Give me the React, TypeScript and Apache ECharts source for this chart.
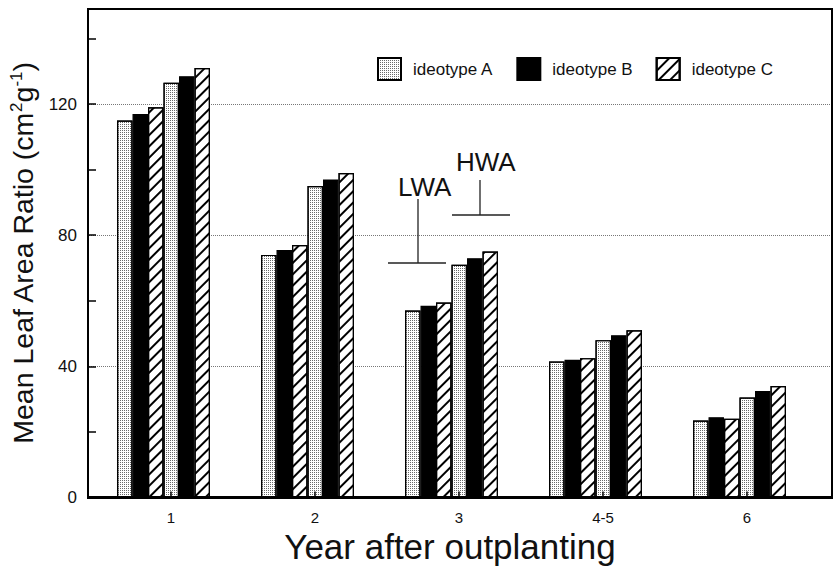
import React, { useEffect, useRef } from 'react';
import * as echarts from 'echarts';

// ---- data ----
const categories = ['1', '2', '3', '4-5', '6'];
const legendNames = ['ideotype A', 'ideotype B', 'ideotype C'];
// LWA (low water availability) group
const lwaA = [115, 74, 57, 41.5, 23.5];
const lwaB = [117, 75.5, 58.5, 42, 24.5];
const lwaC = [119, 77, 59.5, 42.5, 24];
// HWA (high water availability) group
const hwaA = [126.5, 95, 71, 48, 30.5];
const hwaB = [128.5, 97, 73, 49.5, 32.5];
const hwaC = [131, 99, 75, 51, 34];
const yMin = 0;
const yMax = 149;

const FONT = '"Liberation Sans", Arial, Helvetica, sans-serif';

export default function App() {
  const ref = useRef<HTMLDivElement>(null);

  useEffect(() => {
    document.body.style.margin = '0';
    const chart = echarts.init(ref.current as HTMLDivElement, null, { renderer: 'svg' });

    const decalA = {
      symbol: 'rect',
      symbolSize: 1,
      dashArrayX: [1, 1],
      dashArrayY: [1, 1],
      color: '#6a6a6a',
    };
    const decalC = {
      symbol: 'rect',
      symbolSize: 1,
      dashArrayX: [1, 0],
      dashArrayY: [1.3, 5.5],
      rotation: -Math.PI / 4,
      color: '#000',
    };
    const styleA = { color: '#ffffff', borderColor: '#000', borderWidth: 1.2, decal: decalA };
    const styleB = { color: '#000000', borderColor: '#000', borderWidth: 1.2 };
    const styleC = { color: '#ffffff', borderColor: '#000', borderWidth: 1.2, decal: decalC };

    const mk = (name: string, data: number[], style: any) => ({
      type: 'bar',
      name,
      data,
      xAxisIndex: 0,
      yAxisIndex: 2,
      barWidth: 15.5,
      barGap: '0%',
      itemStyle: style,
      emphasis: { disabled: true },
    });

    chart.setOption({
      animation: false,
      backgroundColor: '#ffffff',
      textStyle: { fontFamily: FONT },
      legend: {
        data: legendNames,
        left: 377,
        top: 57,
        padding: 0,
        icon: 'rect',
        itemWidth: 23,
        itemHeight: 22,
        itemGap: 23,
        selectedMode: false,
        textStyle: { fontSize: 17, color: '#111', fontFamily: FONT, padding: [0, 0, 0, 7] },
      },
      grid: [
        { left: 99, right: 14, top: 9, bottom: 87.5 },
        { left: 88, right: 1, top: 9, bottom: 87.5 },
      ],
      xAxis: [
        {
          gridIndex: 0,
          type: 'category',
          data: categories,
          z: 5,
          axisLine: { show: false },
          axisTick: {
            show: true,
            inside: true,
            alignWithLabel: true,
            length: 6,
            lineStyle: { color: '#000', width: 1.5 },
          },
          axisLabel: { fontSize: 15, margin: 12, color: '#111', fontFamily: FONT },
          name: 'Year after outplanting',
          nameLocation: 'middle',
          nameGap: 31,
          nameTextStyle: { fontSize: 35, color: '#111', fontFamily: FONT, padding: [0, 18, 0, 0] },
        },
        { gridIndex: 1, type: 'value', min: 0, max: 1, show: false },
      ],
      yAxis: [
        {
          gridIndex: 1,
          type: 'value',
          min: yMin,
          max: yMax,
          interval: 20,
          axisLine: { show: false },
          axisTick: { show: true, inside: true, length: 7, lineStyle: { color: '#000', width: 1.5 } },
          axisLabel: {
            fontSize: 17,
            margin: 12,
            color: '#111',
            fontFamily: FONT,
            formatter: (v: number) => (v % 40 === 0 ? String(v) : ''),
          },
          splitLine: { show: false },
          name: 'Mean Leaf Area Ratio (cm{sup|2}g{sup|-1})',
          nameLocation: 'middle',
          nameGap: 52,
          nameRotate: 90,
          nameTextStyle: {
            fontSize: 28.5,
            color: '#111',
            fontFamily: FONT,
            rich: { sup: { fontSize: 17, verticalAlign: 'top', color: '#111', fontFamily: FONT } },
          },
        },
        {
          gridIndex: 1,
          type: 'value',
          min: yMin,
          max: yMax,
          interval: 40,
          axisLine: { show: false },
          axisTick: { show: false },
          axisLabel: { show: false },
          splitLine: { show: true, lineStyle: { type: 'dotted', color: '#777', width: 1 } },
        },
        { gridIndex: 0, type: 'value', min: yMin, max: yMax, show: false },
      ],
      series: [
        mk(legendNames[0], lwaA, styleA),
        mk(legendNames[1], lwaB, styleB),
        mk(legendNames[2], lwaC, styleC),
        mk(legendNames[0], hwaA, styleA),
        mk(legendNames[1], hwaB, styleB),
        mk(legendNames[2], hwaC, styleC),
        {
          type: 'bar',
          name: 'spacer',
          data: categories.map(() => 0),
          xAxisIndex: 0,
          yAxisIndex: 2,
          barWidth: 15,
          barGap: '0%',
          itemStyle: { color: 'rgba(0,0,0,0)' },
          silent: true,
        },
      ],
      graphic: [
        {
          type: 'rect',
          z: 100,
          shape: { x: 88, y: 9, width: 744, height: 488.5 },
          style: { fill: 'none', stroke: '#000', lineWidth: 2 },
        },
        {
          type: 'line',
          z: 100,
          shape: { x1: 87, y1: 497.5, x2: 833, y2: 497.5 },
          style: { stroke: '#000', lineWidth: 3 },
        },
        {
          type: 'text',
          z: 100,
          x: 398,
          y: 187,
          style: { text: 'LWA', fontSize: 26, fontFamily: FONT, fill: '#111', textVerticalAlign: 'middle' },
        },
        {
          type: 'text',
          z: 100,
          x: 456,
          y: 162,
          style: { text: 'HWA', fontSize: 26, fontFamily: FONT, fill: '#111', textVerticalAlign: 'middle' },
        },
        { type: 'line', z: 100, shape: { x1: 418, y1: 199, x2: 418, y2: 263 }, style: { stroke: '#222', lineWidth: 1.3 } },
        { type: 'line', z: 100, shape: { x1: 388, y1: 263, x2: 446, y2: 263 }, style: { stroke: '#222', lineWidth: 1.3 } },
        { type: 'line', z: 100, shape: { x1: 480, y1: 180, x2: 480, y2: 215 }, style: { stroke: '#222', lineWidth: 1.3 } },
        { type: 'line', z: 100, shape: { x1: 452, y1: 215, x2: 510, y2: 215 }, style: { stroke: '#222', lineWidth: 1.3 } },
      ],
    });

    return () => chart.dispose();
  }, []);

  return <div ref={ref} style={{ width: 833, height: 585 }} />;
}
